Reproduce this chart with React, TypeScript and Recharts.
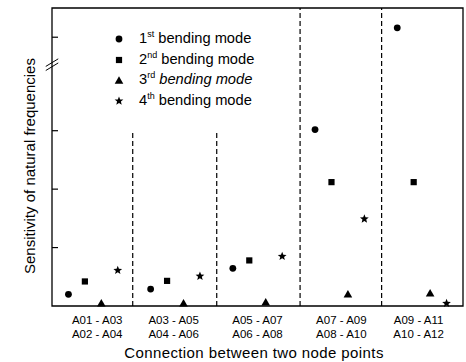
import React from "react";
import { ScatterChart, Scatter, XAxis, YAxis, ReferenceLine, ReferenceArea } from "recharts";

// Group labels (two lines per group)
const groupLabelsTop = ["A01 - A03", "A03 - A05", "A05 - A07", "A07 - A09", "A09 - A11"];
const groupLabelsBottom = ["A02 - A04", "A04 - A06", "A06 - A08", "A08 - A10", "A10 - A12"];
const labelPositions = [2.75, 7.4, 12.5, 17.6, 22.3];
// divider x positions and the y value where each dashed divider ends at top
const dividers = [4.91, 10.02, 15.09, 20.05];
const dividerTops = [3.0, 3.0, 5.1, 5.1];
const yTicks = [1, 2, 3, 4.6];

// Sensitivity values per group
const mode1 = [0.2, 0.29, 0.645, 3.02, 4.76];
const mode2 = [0.42, 0.43, 0.78, 2.12, 2.12];
const mode3 = [0.046, 0.046, 0.063, 0.2, 0.217];
const mode4 = [0.61, 0.51, 0.85, 1.49, 0.046];

const toPoints = (vals: number[], m: number) => vals.map((v, g) => ({ x: g * 5 + m + 1, y: v }));

const FONT = "'Liberation Sans', Arial, Helvetica, sans-serif";

const CircleShape = (p: any) => <circle cx={p.cx} cy={p.cy} r={3.4} fill="#000" />;
const SquareShape = (p: any) => <rect x={p.cx - 3.1} y={p.cy - 3.1} width={6.2} height={6.2} fill="#000" />;
const TriangleShape = (p: any) => (
  <polygon points={`${p.cx},${p.cy - 4.2} ${p.cx - 4.3},${p.cy + 3.2} ${p.cx + 4.3},${p.cy + 3.2}`} fill="#000" />
);
const starPoints = (cx: number, cy: number, R: number, r: number) => {
  const pts: string[] = [];
  for (let i = 0; i < 10; i++) {
    const rad = i % 2 === 0 ? R : r;
    const a = -Math.PI / 2 + (i * Math.PI) / 5;
    pts.push(`${cx + rad * Math.cos(a)},${cy + rad * Math.sin(a)}`);
  }
  return pts.join(" ");
};
const StarShape = (p: any) => <polygon points={starPoints(p.cx, p.cy, 4.6, 2)} fill="#000" />;

const YTick = (p: any) => <line x1={p.x} x2={p.x + 6} y1={p.y} y2={p.y} stroke="#000" strokeWidth={1.2} />;

const XTick = (p: any) => {
  const i = labelPositions.indexOf(p.payload.value);
  return (
    <g>
      <text x={p.x} y={p.y + 18} textAnchor="middle" fontSize={11.5} fontFamily={FONT} fill="#000">
        {groupLabelsTop[i]}
      </text>
      <text x={p.x} y={p.y + 32} textAnchor="middle" fontSize={11.5} fontFamily={FONT} fill="#000">
        {groupLabelsBottom[i]}
      </text>
    </g>
  );
};

const legendItems = [
  { sup: "st", italic: false, shape: "circle" },
  { sup: "nd", italic: false, shape: "square" },
  { sup: "rd", italic: true, shape: "triangle" },
  { sup: "th", italic: false, shape: "star" },
];
const legendNums = ["1", "2", "3", "4"];

const LegendMarker = ({ shape }: { shape: string }) => {
  const c = 7;
  return (
    <svg width={14} height={14} style={{ display: "block" }}>
      {shape === "circle" && <CircleShape cx={c} cy={c} />}
      {shape === "square" && <SquareShape cx={c} cy={c} />}
      {shape === "triangle" && <TriangleShape cx={c} cy={c + 0.5} />}
      {shape === "star" && <StarShape cx={c} cy={c} />}
    </svg>
  );
};

export default function App() {
  return (
    <div style={{ position: "absolute", left: 0, top: 0, width: 466, height: 362, background: "#fff", fontFamily: FONT }}>
      <ScatterChart width={466} height={362} margin={{ top: 8, right: 3, bottom: 0, left: 0 }}>
        <XAxis
          type="number"
          dataKey="x"
          domain={[0, 25]}
          ticks={labelPositions}
          interval={0}
          tick={XTick}
          tickLine={false}
          axisLine={false}
          tickSize={0}
          tickMargin={0}
          height={56}
        />
        <YAxis
          type="number"
          dataKey="y"
          domain={[0, 5.1]}
          ticks={yTicks}
          interval={0}
          tick={YTick}
          tickLine={false}
          axisLine={false}
          tickSize={0}
          tickMargin={0}
          width={52}
        />
        <ReferenceArea x1={0} x2={25} y1={0} y2={5.1} fill="none" stroke="#000" strokeWidth={1.3} ifOverflow="visible" />
        {dividers.map((d, i) => (
          <ReferenceLine
            key={i}
            segment={[{ x: d, y: 0 }, { x: d, y: dividerTops[i] }]}
            stroke="#000"
            strokeWidth={1.2}
            strokeDasharray="5 3"
          />
        ))}
        <ReferenceLine segment={[{ x: -0.38, y: 4.1 }, { x: 0.38, y: 4.23 }]} stroke="#000" strokeWidth={1} ifOverflow="visible" />
        <ReferenceLine segment={[{ x: -0.38, y: 4.03 }, { x: 0.38, y: 4.16 }]} stroke="#000" strokeWidth={1} ifOverflow="visible" />
        <Scatter data={toPoints(mode1, 0)} shape={CircleShape} isAnimationActive={false} />
        <Scatter data={toPoints(mode2, 1)} shape={SquareShape} isAnimationActive={false} />
        <Scatter data={toPoints(mode3, 2)} shape={TriangleShape} isAnimationActive={false} />
        <Scatter data={toPoints(mode4, 3)} shape={StarShape} isAnimationActive={false} />
      </ScatterChart>

      <div style={{ position: "absolute", left: 112, top: 28.5, fontSize: 14.7, color: "#000" }}>
        {legendItems.map((it, i) => (
          <div key={i} style={{ display: "flex", alignItems: "center", height: 20.7 }}>
            <LegendMarker shape={it.shape} />
            <span style={{ marginLeft: 13, whiteSpace: "nowrap", lineHeight: "20px" }}>
              {legendNums[i]}
              <span style={{ fontSize: 9, position: "relative", top: -6 }}>{it.sup}</span>{" "}
              <span style={{ fontStyle: it.italic ? "italic" : "normal" }}>bending mode</span>
            </span>
          </div>
        ))}
      </div>

      <div
        style={{
          position: "absolute",
          left: 30 - 150,
          top: 166 - 10,
          width: 300,
          height: 20,
          lineHeight: "20px",
          textAlign: "center",
          fontSize: 15,
          color: "#000",
          transform: "rotate(-90deg)",
          whiteSpace: "nowrap",
        }}
      >
        Sensitivity of natural frequencies
      </div>
      <div
        style={{
          position: "absolute",
          left: 254 - 200,
          top: 343,
          width: 400,
          height: 20,
          lineHeight: "20px",
          textAlign: "center",
          fontSize: 15,
          letterSpacing: 0.4,
          color: "#000",
          whiteSpace: "nowrap",
        }}
      >
        Connection between two node points
      </div>
    </div>
  );
}
